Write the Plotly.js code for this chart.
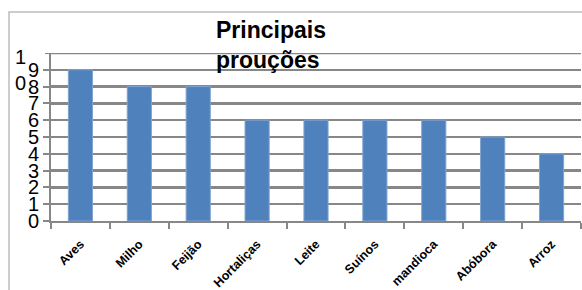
<!DOCTYPE html>
<html>
<head>
<meta charset="utf-8">
<script src="https://cdn.plot.ly/plotly-3.0.1.min.js"></script>
<style>
html,body{margin:0;padding:0;background:#fff;}
#chart{width:582px;height:290px;}
</style>
</head>
<body>
<div id="chart"></div>
<script>
const categories = ["Aves", "Milho", "Feijão", "Hortaliças", "Leite", "Suínos", "mandioca", "Abóbora", "Arroz"];
const values = [9, 8, 8, 6, 6, 6, 6, 5, 4];
const yTickVals = [0, 1, 2, 3, 4, 5, 6, 7, 8, 9];
const yTickText = ["0", "1", "2", "3", "4", "5", "6", "7", "8", "9"];
const topLabel = "1<br>0";
const titleText = "Principais<br>prouções";

const gridColor = "#878787";
const W = 530, H = 168, L = 51, B = 69;
const px2x = p => (p - L) / W;
const py2y = p => (290 - B - p) / H;

const trace = {
  type: "bar",
  x: categories,
  y: values,
  marker: { color: "#4F81BD", line: { color: "#7FA3D0", width: 1 } },
  hoverinfo: "none"
};

const layout = {
  width: 582, height: 290,
  margin: { l: L, r: 582 - L - W, t: 290 - B - H, b: B, pad: 0 },
  paper_bgcolor: "#fff",
  plot_bgcolor: "#fff",
  font: { family: "Liberation Sans, Arial, sans-serif", color: "#000" },
  showlegend: false,
  bargap: 0.59,
  title: {
    text: titleText,
    font: { size: 23, family: "Liberation Sans, Arial, sans-serif", weight: "bold", color: "#000" },
    xref: "paper", x: px2x(216), xanchor: "left",
    yref: "container", y: 1 - 38 / 290, yanchor: "top"
  },
  xaxis: {
    type: "category",
    showgrid: false,
    showline: true, linecolor: gridColor, linewidth: 2,
    ticks: "outside", ticklen: 6, tickwidth: 2, tickcolor: gridColor,
    tickson: "boundaries",
    tickangle: -45,
    ticklabelstandoff: 9,
    tickfont: { size: 12.5, weight: "bold", color: "#000", family: "Liberation Sans, Arial, sans-serif" },
    fixedrange: true
  },
  yaxis: {
    range: [0, 10],
    tickmode: "array",
    tickvals: yTickVals,
    ticktext: yTickText,
    showgrid: true, gridcolor: gridColor, gridwidth: 2.5,
    zeroline: false,
    showline: true, linecolor: gridColor, linewidth: 2,
    ticks: "outside", ticklen: 6, tickwidth: 2, tickcolor: gridColor,
    tickfont: { size: 20, color: "#000" },
    fixedrange: true
  },
  shapes: [
    { type: "line", xref: "paper", yref: "y", x0: 0, x1: 1, y0: 10, y1: 10,
      line: { color: gridColor, width: 2.5 } },
    { type: "line", xref: "paper", yref: "y", x0: px2x(45), x1: 0, y0: 10, y1: 10,
      line: { color: gridColor, width: 2 } },
    { type: "rect", xref: "paper", yref: "paper",
      x0: px2x(9), x1: px2x(600), y0: py2y(300), y1: py2y(12),
      line: { color: "#BDBDBD", width: 1.5 }, fillcolor: "rgba(0,0,0,0)", layer: "below" }
  ],
  annotations: [
    { text: topLabel, xref: "paper", yref: "y", x: px2x(28), y: 10,
      xanchor: "right", yanchor: "top", yshift: 9, showarrow: false, align: "right",
      font: { size: 20, color: "#000" } }
  ]
};

Plotly.newPlot("chart", [trace], layout, { displayModeBar: false, staticPlot: true });
</script>
</body>
</html>
